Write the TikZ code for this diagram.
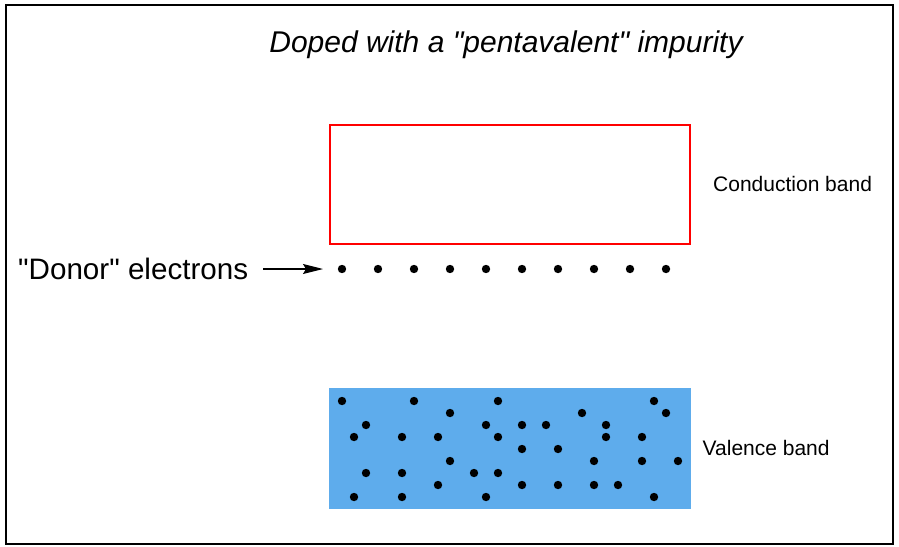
\documentclass[tikz,border=0pt]{standalone}
\usepackage{fontspec}
\setmainfont{Liberation Sans}
\usetikzlibrary{arrows.meta}
\definecolor{valence}{RGB}{94,172,236}
\newcommand{\elektron}[1]{\foreach \p in {#1} \fill (\p) circle (4.2pt);}

\begin{document}
\begin{tikzpicture}[x=1pt,y=-1pt]
  \useasboundingbox (0,0) rectangle (899,546);
  \draw[line width=1.6pt] (6,5) rectangle (893,544);

  % bands
  \fill[valence] (329,388) rectangle (691,509);
  \draw[red,line width=1.4pt] (330,125) rectangle (690,244);

  \coordinate (tail) at (263,269);
  \coordinate (tip)  at (323,269);

  % donor level
  \foreach \i in {0,...,9} \fill (342+36*\i,269) circle (4.2pt);

  % valence electrons
  \elektron{{342,401},{414,401},{498,401},{654,401},
    {450,413},{582,413},{666,413},
    {366,425},{486,425},{522,425},{546,425},{606,425},
    {354,437},{402,437},{438,437},{498,437},{606,437},{642,437},
    {522,449},{558,449},
    {450,461},{594,461},{642,461},{678,461},
    {366,473},{402,473},{474,473},{498,473},
    {438,485},{522,485},{558,485},{594,485},{618,485},
    {354,497},{402,497},{486,497},{654,497}}

  \draw[line width=1.2pt,-{Stealth[length=20pt,width=10pt,inset=3pt]}] (tail) -- (tip);

  \node[anchor=base,inner sep=0,font=\fontsize{30}{36}\selectfont\itshape] (title) at (506,52.7) {Doped with a \textquotedbl pentavalent\textquotedbl{} impurity};
  \node[anchor=base west,inner sep=0,font=\fontsize{29.6}{35}\selectfont] (donor) at (18,279.5) {\textquotedbl Donor\textquotedbl{} electrons};
  \node[anchor=base west,inner sep=0,font=\fontsize{21}{25}\selectfont] (cond) at (713,191) {Conduction band};
  \node[anchor=base west,inner sep=0,font=\fontsize{21}{25}\selectfont] (val) at (702.5,455.7) {Valence band};
\end{tikzpicture}
\end{document}
